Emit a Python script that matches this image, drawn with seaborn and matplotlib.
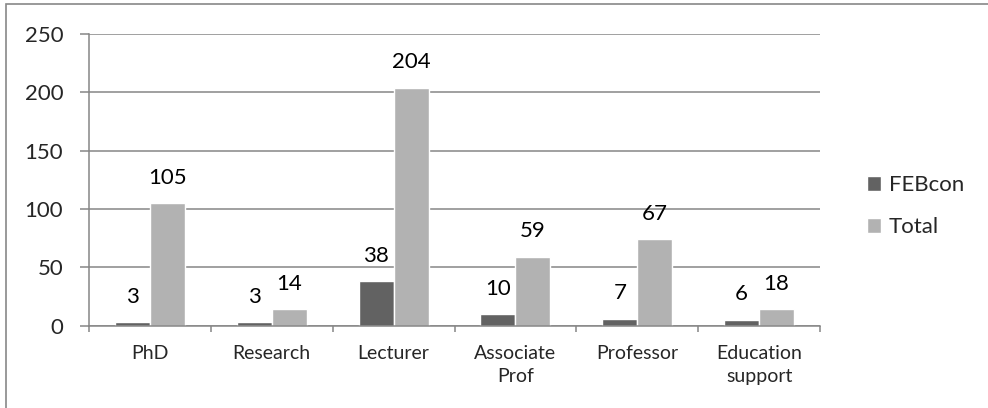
import seaborn as sns
import matplotlib.pyplot as plt
import pandas as pd
from matplotlib.patches import Rectangle

categories = ['PhD', 'Research', 'Lecturer', 'Associate\nProf', 'Professor', 'Education\nsupport']
febcon = [3, 3, 38, 10, 6, 5]
total = [105, 14, 204, 59, 74, 14]
febcon_labels = ['3', '3', '38', '10', '7', '6']
total_labels = ['105', '14', '204', '59', '67', '18']

df = pd.DataFrame({
    'cat': categories * 2,
    'value': febcon + total,
    'series': ['FEBcon'] * len(categories) + ['Total'] * len(categories),
})

sns.set_style('white')
plt.rcParams['font.family'] = ['Lato', 'DejaVu Sans']

fig = plt.figure(figsize=(9.88, 4.08), dpi=100)
ax = fig.add_axes([89 / 988, 1 - 325.5 / 408, (820 - 89) / 988, (325.5 - 34) / 408])

sns.barplot(data=df, x='cat', y='value', hue='series', order=categories,
            palette=['#626262', '#b2b2b2'], width=0.574, saturation=1,
            ax=ax, zorder=3)

for cont, labs in zip(ax.containers, [febcon_labels, total_labels]):
    ax.bar_label(cont, labels=labs, padding=11, fontsize=16, color='black')

ax.set_ylim(0, 250)
ax.set_yticks(range(0, 251, 50))
ax.set_xlim(-0.5, len(categories) - 0.5)
ax.set_xlabel('')
ax.set_ylabel('')
ax.grid(axis='y', color='#868686', lw=1.1, zorder=0)
ax.set_axisbelow(True)

for s in ['top', 'right']:
    ax.spines[s].set_visible(False)
for s in ['left', 'bottom']:
    ax.spines[s].set_color('#868686')
    ax.spines[s].set_linewidth(1.1)
    ax.spines[s].set_zorder(4)

ax.tick_params(axis='y', labelsize=16, length=6.5, width=1.1, color='#868686',
               left=True, pad=12)
ax.tick_params(axis='x', which='major', labelsize=14, length=0, pad=14)
ax.set_xticks([i - 0.5 for i in range(len(categories) + 1)], minor=True)
ax.tick_params(axis='x', which='minor', bottom=True, length=4.5, width=1.1,
               color='#868686')
for t in ax.get_xticklabels():
    t.set_linespacing(1.45)

ax.legend(frameon=False, loc='center left', bbox_to_anchor=(858 / 988, 1 - 206 / 408),
          bbox_transform=fig.transFigure, fontsize=16, handlelength=0.65,
          handleheight=0.65, handletextpad=0.35, labelspacing=1.0, borderaxespad=0)

fig.add_artist(Rectangle((5.5 / 988, -0.1), 1.2, 1.1 - 4.5 / 408,
                         transform=fig.transFigure, fill=False,
                         edgecolor='#888888', lw=1.2))

fig.savefig('out.png', dpi=100)
